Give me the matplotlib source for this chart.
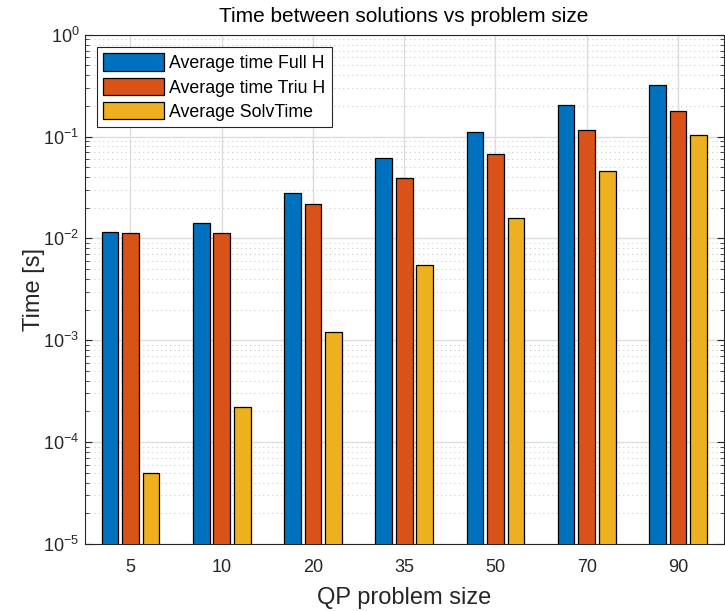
import numpy as np
import matplotlib
matplotlib.use("Agg")
from matplotlib import pyplot as plt

plt.rcParams['font.family'] = ['Liberation Sans', 'DejaVu Sans']
plt.rcParams['mathtext.fontset'] = 'custom'
plt.rcParams['mathtext.rm'] = 'Liberation Sans'

sizes = ['5', '10', '20', '35', '50', '70', '90']
full_h = [0.0115, 0.0141, 0.0278, 0.0615, 0.111, 0.205, 0.322]
triu_h = [0.0113, 0.0112, 0.0217, 0.039, 0.0675, 0.116, 0.179]
solv_time = [5.0e-5, 2.2e-4, 1.2e-3, 0.0055, 0.0158, 0.0458, 0.104]

series = [full_h, triu_h, solv_time]
names = ['Average time Full H', 'Average time Triu H', 'Average SolvTime']
colors = ['#0072BD', '#D95319', '#EDB120']

fig = plt.figure(figsize=(7.25, 6.11), dpi=100)
ax = fig.add_axes([0.117, 0.110, 0.881, 0.833])

x = np.arange(1, len(sizes) + 1)
pitch = 0.225
w = 0.183
for i, (vals, name, c) in enumerate(zip(series, names, colors)):
    ax.bar(x + (i - 1) * pitch, vals, width=w, color=c, edgecolor='black',
           linewidth=0.9, label=name, zorder=3)

ax.set_yscale('log')
ax.set_ylim(1e-5, 1)
ax.set_xlim(0.5, 7.5)
ax.set_xticks(x)
ax.set_xticklabels(sizes)
ax.set_yticks([1e-5, 1e-4, 1e-3, 1e-2, 1e-1, 1])
ax.set_yticklabels([r'$10^{%d}$' % p for p in range(-5, 1)])

ax.grid(True, which='major', color='#dcdcdc', linewidth=1.0, zorder=0)
ax.grid(True, which='minor', axis='y', color='#cccccc', linestyle=(0, (1, 3)),
        linewidth=0.8, zorder=0)
ax.set_axisbelow(True)

ax.tick_params(axis='both', which='both', direction='in', labelsize=13,
               colors='#262626', right=True, top=False)
ax.tick_params(axis='x', length=0, pad=11)
ax.tick_params(axis='y', which='major', length=5, pad=4)
ax.tick_params(axis='y', which='minor', length=3)
for s in ax.spines.values():
    s.set_color('#262626')
    s.set_linewidth(0.8)

ax.set_title('Time between solutions vs problem size', fontsize=15,
             color='black', pad=9)
ax.set_xlabel('QP problem size', fontsize=17, color='#262626', labelpad=8)
ax.set_ylabel('Time [s]', fontsize=17, color='#262626', labelpad=-1)

leg = ax.legend(loc='upper left', fontsize=12.8, fancybox=False, framealpha=1,
                edgecolor='#262626', handlelength=3.4, handleheight=1.1,
                borderpad=0.35, labelspacing=0.33, handletextpad=0.3,
                borderaxespad=0.7)
leg.get_frame().set_linewidth(0.8)

fig.savefig('out.png', dpi=100)
